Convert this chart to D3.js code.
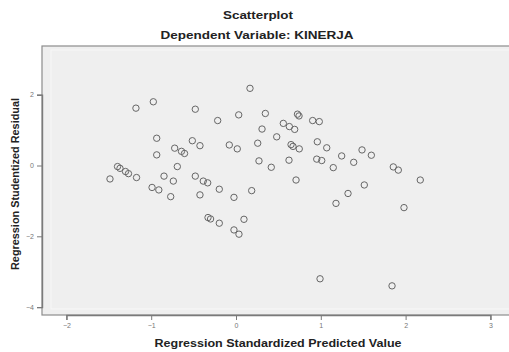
<!DOCTYPE html>
<html>
<head>
<meta charset="utf-8">
<script src="https://cdn.jsdelivr.net/npm/d3@7"></script>
<style>
  body { margin: 0; background: #fff; }
  text { font-family: "Liberation Sans", Arial, sans-serif; }
</style>
</head>
<body>
<div id="chart"></div>
<script>
// standardized predicted value (x) and studentized residual (y)
const predicted = [
  0.165, -0.975, -1.18, -0.48, -0.216, 0.032, 0.346, 0.307, 0.48, -0.935,
  -0.515, -0.425, -0.723, -0.643, -0.607, -0.079, 0.015, 0.256, -0.935, 0.271,
  0.416, -0.692, -1.397, -1.368, -1.303, -1.268, -1.173, -1.486, -0.849, -0.48,
  -0.739, -0.386, -0.334, -0.99, -0.91, -0.77, -0.425, -0.197, -0.024, 0.185,
  -0.33, -0.30, -0.197, 0.094, -0.024, 0.035, 0.725, 0.743, 0.904, 0.982,
  0.558, 0.629, 0.692, 0.649, 0.672, 0.746, 0.959, 1.07, 1.486, 1.596,
  1.246, 1.388, 0.952, 1.011, 1.147, 0.625, 1.855, 1.914, 0.708, 2.173,
  1.513, 1.321, 1.179, 1.981, 0.991, 1.84
];
const residual = [
  2.18, 1.80, 1.62, 1.59, 1.27, 1.43, 1.47, 1.03, 0.81, 0.77,
  0.70, 0.56, 0.49, 0.40, 0.34, 0.58, 0.47, 0.63, 0.30, 0.13,
  -0.05, -0.03, -0.03, -0.08, -0.17, -0.23, -0.34, -0.38, -0.30, -0.30,
  -0.44, -0.44, -0.49, -0.62, -0.69, -0.88, -0.83, -0.67, -0.90, -0.71,
  -1.47, -1.51, -1.63, -1.52, -1.82, -1.94, 1.45, 1.40, 1.27, 1.24,
  1.19, 1.10, 1.02, 0.59, 0.54, 0.47, 0.67, 0.50, 0.44, 0.29,
  0.27, 0.09, 0.18, 0.14, -0.06, 0.15, -0.04, -0.13, -0.41, -0.41,
  -0.55, -0.79, -1.07, -1.19, -3.20, -3.40
];
const xTicks = [-2, -1, 0, 1, 2, 3];
const yTicks = [2, 0, -2, -4];

const width = 509, height = 352;
const box = { left: 42, top: 46, right: 511, bottom: 315 };

const svg = d3.select("#chart").append("svg")
  .attr("width", width)
  .attr("height", height);

const x = d3.scaleLinear().domain([-2, 3]).range([66.4, 490.4]);
const y = d3.scaleLinear().domain([2, -4]).range([94.7, 307.1]);

// plot background + frames
svg.append("rect")
  .attr("x", box.left).attr("y", box.top)
  .attr("width", box.right - box.left).attr("height", box.bottom - box.top)
  .attr("fill", "#efefef").attr("stroke", "#8c8c8c").attr("stroke-width", 1.2);

svg.append("rect")
  .attr("x", box.left + 9).attr("y", box.top + 4)
  .attr("width", box.right - box.left).attr("height", box.bottom - box.top - 10)
  .attr("fill", "none").attr("stroke", "#f8f8f8").attr("stroke-width", 1);

// axes
const xAxis = svg.append("g")
  .attr("transform", `translate(0,${box.bottom})`)
  .call(d3.axisBottom(x).tickValues(xTicks).tickSize(5).tickPadding(3).tickFormat(d3.format("d")));
const yAxis = svg.append("g")
  .attr("transform", `translate(${box.left},0)`)
  .call(d3.axisLeft(y).tickValues(yTicks).tickSize(5).tickPadding(3).tickFormat(d3.format("d")));

[xAxis, yAxis].forEach(a => {
  a.select(".domain").attr("stroke", "#7a7a7a").attr("stroke-width", 1.4);
  a.selectAll(".tick line").attr("stroke", "#7a7a7a");
  a.selectAll(".tick text").attr("fill", "#777").style("font-size", "7px");
});

// points
const points = predicted.map((p, i) => ({ p, r: residual[i] }));
svg.append("g")
  .selectAll("circle")
  .data(points)
  .enter()
  .append("circle")
  .attr("cx", d => x(d.p))
  .attr("cy", d => y(d.r))
  .attr("r", 3.2)
  .attr("fill", "none")
  .attr("stroke", "#666")
  .attr("stroke-width", 1);

// titles (stretched a little, the original font runs wide)
const label = (tx, ty, str, len, rot) => {
  svg.append("text")
    .attr("transform", `translate(${tx},${ty})` + (rot ? " rotate(-90)" : ""))
    .attr("text-anchor", "middle")
    .attr("textLength", len)
    .attr("lengthAdjust", "spacingAndGlyphs")
    .style("font-size", "11.5px").style("font-weight", "bold").attr("fill", "#222")
    .text(str);
};
label(258, 19, "Scatterplot", 70);
label(257, 39, "Dependent Variable: KINERJA", 193);
label(278, 347, "Regression Standardized Predicted Value", 247);
label(19, 184, "Regression Studentized Residual", 172, true);
</script>
</body>
</html>
